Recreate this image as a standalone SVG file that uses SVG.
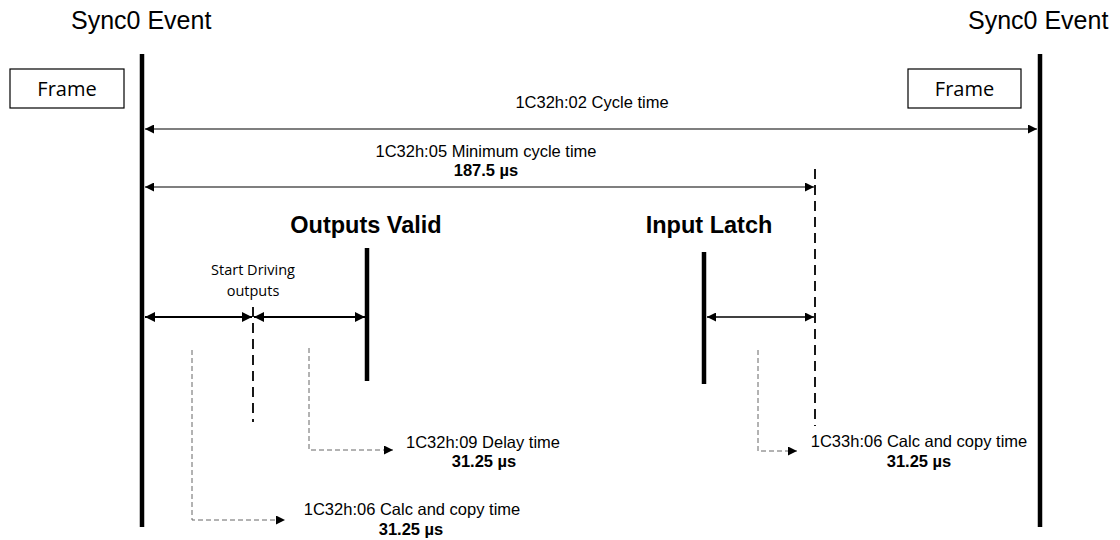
<svg xmlns="http://www.w3.org/2000/svg" width="1120" height="540" viewBox="0 0 1120 540">
<defs>
<marker id="ah" viewBox="0 0 10 10" refX="10" refY="5" markerWidth="9" markerHeight="9" markerUnits="userSpaceOnUse" orient="auto-start-reverse"><path d="M0,0 L10,5 L0,10 z" fill="#000"/></marker>
<marker id="ah2" viewBox="0 0 10 10" refX="10" refY="5" markerWidth="10" markerHeight="10" markerUnits="userSpaceOnUse" orient="auto-start-reverse"><path d="M0,0 L10,5 L0,10 z" fill="#000"/></marker>
<style>
text{font-family:"Liberation Sans",Arial,sans-serif;fill:#000}
.big{font-size:25px}
.hd{font-size:23.5px;font-weight:bold}
.lbl{font-size:16.5px}
.val{font-size:16.5px;font-weight:bold}
.seg{font-family:"Open Sans","Noto Sans",sans-serif}
.thick{stroke:#000;stroke-width:4.5;fill:none}
.dim{stroke:#555;stroke-width:1.3;fill:none}
.dimk{stroke:#000;stroke-width:1.8;fill:none}
.vdash{stroke:#000;stroke-width:1.8;fill:none;stroke-dasharray:10 6}
.gdash{stroke:#666;stroke-width:1;fill:none;stroke-dasharray:5 3}
.box{fill:#fff;stroke:#000;stroke-width:1.2}
</style>
</defs>
<g id="sync-left">
<text class="big" x="71" y="29">Sync0 Event</text>
<line class="thick" x1="142" y1="54" x2="142" y2="527"/>
</g>
<g id="sync-right">
<text class="big" x="968" y="29">Sync0 Event</text>
<line class="thick" x1="1040" y1="54" x2="1040" y2="527"/>
</g>
<g id="frame-left">
<rect class="box" x="10" y="69" width="114" height="39"/>
<text class="seg" x="67" y="96" font-size="20" text-anchor="middle">Frame</text>
</g>
<g id="frame-right">
<rect class="box" x="908" y="69" width="113" height="39"/>
<text class="seg" x="964.5" y="96" font-size="20" text-anchor="middle">Frame</text>
</g>
<g id="outputs-valid">
<text class="hd" x="366" y="233" text-anchor="middle">Outputs Valid</text>
<line class="thick" x1="367" y1="248" x2="367" y2="381"/>
</g>
<g id="input-latch">
<text class="hd" x="709" y="233" text-anchor="middle">Input Latch</text>
<line class="thick" x1="704" y1="252" x2="704" y2="384"/>
</g>
<g id="start-driving">
<text class="seg" x="253" y="275" font-size="14.5" text-anchor="middle">Start Driving</text>
<text class="seg" x="253" y="296" font-size="14.5" text-anchor="middle">outputs</text>
<line class="vdash" x1="253" y1="307" x2="253" y2="422"/>
</g>
<g id="min-cycle-end">
<line class="vdash" x1="815" y1="169" x2="815" y2="426"/>
</g>
<g id="labels">
<text class="lbl" x="592" y="108" text-anchor="middle">1C32h:02 Cycle time</text>
<text class="lbl" x="486" y="157" text-anchor="middle">1C32h:05 Minimum cycle time</text>
<text class="val" x="486" y="176" text-anchor="middle">187.5 µs</text>
<text class="lbl" x="483" y="448" text-anchor="middle">1C32h:09 Delay time</text>
<text class="val" x="484" y="467" text-anchor="middle">31.25 µs</text>
<text class="lbl" x="412" y="515" text-anchor="middle">1C32h:06 Calc and copy time</text>
<text class="val" x="411" y="535" text-anchor="middle">31.25 µs</text>
<text class="lbl" x="919" y="447" text-anchor="middle">1C33h:06 Calc and copy time</text>
<text class="val" x="919" y="467" text-anchor="middle">31.25 µs</text>
</g>
<g id="connectors">
<line class="dim" x1="145" y1="129" x2="1037" y2="129" marker-start="url(#ah)" marker-end="url(#ah)"/>
<line class="dim" x1="145" y1="187" x2="814" y2="187" marker-start="url(#ah)" marker-end="url(#ah)"/>
<line class="dimk" x1="145" y1="317" x2="252" y2="317" marker-start="url(#ah2)" marker-end="url(#ah2)"/>
<line class="dimk" x1="254" y1="317" x2="365" y2="317" marker-start="url(#ah2)" marker-end="url(#ah2)"/>
<line class="dim" x1="707" y1="317" x2="814" y2="317" marker-start="url(#ah)" marker-end="url(#ah)" style="stroke:#000"/>
<polyline class="gdash" points="192,350 192,520 285,520" marker-end="url(#ah)"/>
<polyline class="gdash" points="309,348 309,450 393,450" marker-end="url(#ah)"/>
<polyline class="gdash" points="758,350 758,451 797,451" marker-end="url(#ah)"/>
</g>
</svg>
